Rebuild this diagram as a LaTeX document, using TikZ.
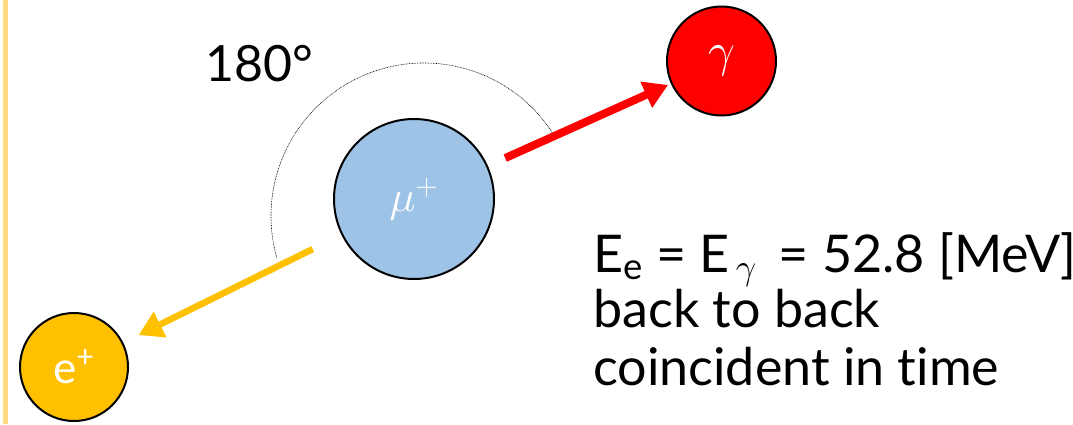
\RequirePackage{fix-cm}
\documentclass[tikz,border=0pt]{standalone}
\usepackage{fontspec}
\setmainfont{Lato}[Ligatures=NoCommon]
\usetikzlibrary{arrows.meta}
\definecolor{strip}{HTML}{FFD980}
\definecolor{mublue}{HTML}{9DC3E6}
\definecolor{eyellow}{HTML}{FFC000}
\definecolor{gred}{HTML}{FF0000}
\tikzset{
  particle/.style={circle, draw=black, line width=2pt, inner sep=0pt, outer sep=0pt, text=white},
  bigtext/.style={font=\fontsize{52}{60}\selectfont, inner sep=0pt, anchor=base west, text=black},
  flight/.style={line width=#1, -{Triangle[length=24pt,width=27pt]}},
}
\begin{document}
\begin{tikzpicture}[x=1pt,y=1pt]
\useasboundingbox (0,0) rectangle (1073,424);
\fill[strip] (3,0) rectangle (8,424);
% dotted angle arc
\draw[line width=0.6pt, dash pattern=on 0.8pt off 0.8pt] (424,208) ++(33:153) arc[start angle=33, end angle=196, radius=153];
\node[particle, fill=mublue, minimum size=160pt, font=\fontsize{44}{50}\selectfont] (mu) at (414,225) {$\mu^{+}$};
\node[particle, fill=gred, minimum size=109pt, font=\fontsize{48}{54}\selectfont] (gam) at (721.5,363) {$\gamma$};
\node[particle, fill=eyellow, minimum size=108pt, font=\fontsize{44}{50}\selectfont] (e) at (74,57) {e\textsuperscript{+}};
\draw[flight=8pt, draw=gred, fill=gred, shorten <=20pt, shorten >=4pt] (mu) -- (gam);
\draw[flight=6.5pt, draw=eyellow, fill=eyellow, shorten <=33pt, shorten >=18pt] (mu) -- (e);
\node[bigtext, font=\fontsize{50}{58}\selectfont] (angle) at (205,342) {180°};
\node[bigtext] (t1) at (593,152) {E\textsubscript{e} = E\textsubscript{\,$\gamma$}\, = 52.8 [MeV]};
\node[bigtext] (t2) at (593,97) {back to back};
\node[bigtext] (t3) at (593,39) {coincident in time};
\end{tikzpicture}
\end{document}
